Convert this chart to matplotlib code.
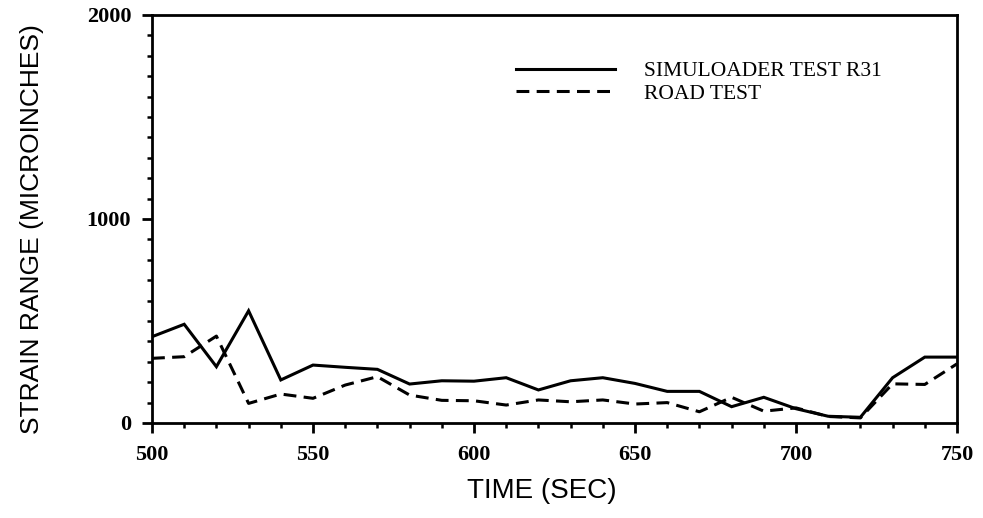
import matplotlib
matplotlib.use("Agg")
import matplotlib.pyplot as plt
from matplotlib.ticker import MultipleLocator, FixedLocator

# Time axis (seconds)
time_sec = [500, 510, 520, 530, 540, 550, 560, 570, 580, 590,
            600, 610, 620, 630, 640, 650, 660, 670, 680, 690,
            700, 710, 720, 730, 740, 750]

# Strain range (microinches)
simuloader_r31 = [423, 484, 276, 550, 211, 284, 273, 263, 191, 207,
                  205, 222, 162, 207, 222, 194, 155, 155, 80, 126,
                  70, 33, 28, 222, 323, 323]
road_test = [317, 325, 426, 96, 142, 121, 186, 227, 137, 111,
             109, 88, 113, 104, 113, 93, 100, 55, 126, 58,
             74, 32, 25, 192, 189, 290]

series_labels = ["SIMULOADER TEST R31", "ROAD TEST"]
x_label = "TIME (SEC)"
y_label = "STRAIN RANGE (MICROINCHES)"
x_ticks = [500, 550, 600, 650, 700, 750]
y_ticks = [0, 1000, 2000]

W, H = 983, 518
fig = plt.figure(figsize=(W / 100, H / 100), dpi=100)
ax = fig.add_axes([152 / W, 1 - 423 / H, (957 - 152) / W, (423 - 15) / H])

lw = 2.2
ax.plot(time_sec, simuloader_r31, color="black", lw=lw, solid_joinstyle="miter",
        label=series_labels[0])
ax.plot(time_sec, road_test, color="black", lw=lw, dashes=(4.2, 2.4),
        label=series_labels[1])

ax.set_xlim(500, 750)
ax.set_ylim(0, 2000)

for s in ax.spines.values():
    s.set_linewidth(2.0)

ax.xaxis.set_major_locator(FixedLocator(x_ticks))
ax.xaxis.set_minor_locator(MultipleLocator(10))
ax.yaxis.set_major_locator(FixedLocator(y_ticks))
ax.yaxis.set_minor_locator(MultipleLocator(100))

ax.tick_params(axis="both", which="major", direction="out", length=7, width=2.0)
ax.tick_params(axis="both", which="minor", direction="out", length=3.5, width=1.8)
ax.tick_params(axis="x", which="major", pad=9)
ax.tick_params(axis="y", which="major", pad=8)

serif = ["Liberation Serif", "DejaVu Serif"]
ax.set_xticklabels([str(v) for v in x_ticks], family=serif, fontsize=16, weight="bold")
ax.set_yticklabels([str(v) for v in y_ticks], family=serif, fontsize=16, weight="bold")

ax.set_xlabel(x_label, family="Liberation Sans", fontsize=20)
ax.xaxis.set_label_coords(0.484, -0.135)
ax.set_ylabel(y_label, family="Liberation Sans", fontsize=19)
ax.yaxis.set_label_coords(-0.134, 0.475)

leg = ax.legend(loc="upper left", bbox_to_anchor=(516 / W, 1 - 61 / H),
                bbox_transform=fig.transFigure, frameon=False,
                prop={"family": serif, "size": 15.5},
                handlelength=4.6, handletextpad=1.35, labelspacing=0.12,
                borderaxespad=0, borderpad=0)

fig.savefig("out.png", dpi=100, facecolor="white")
